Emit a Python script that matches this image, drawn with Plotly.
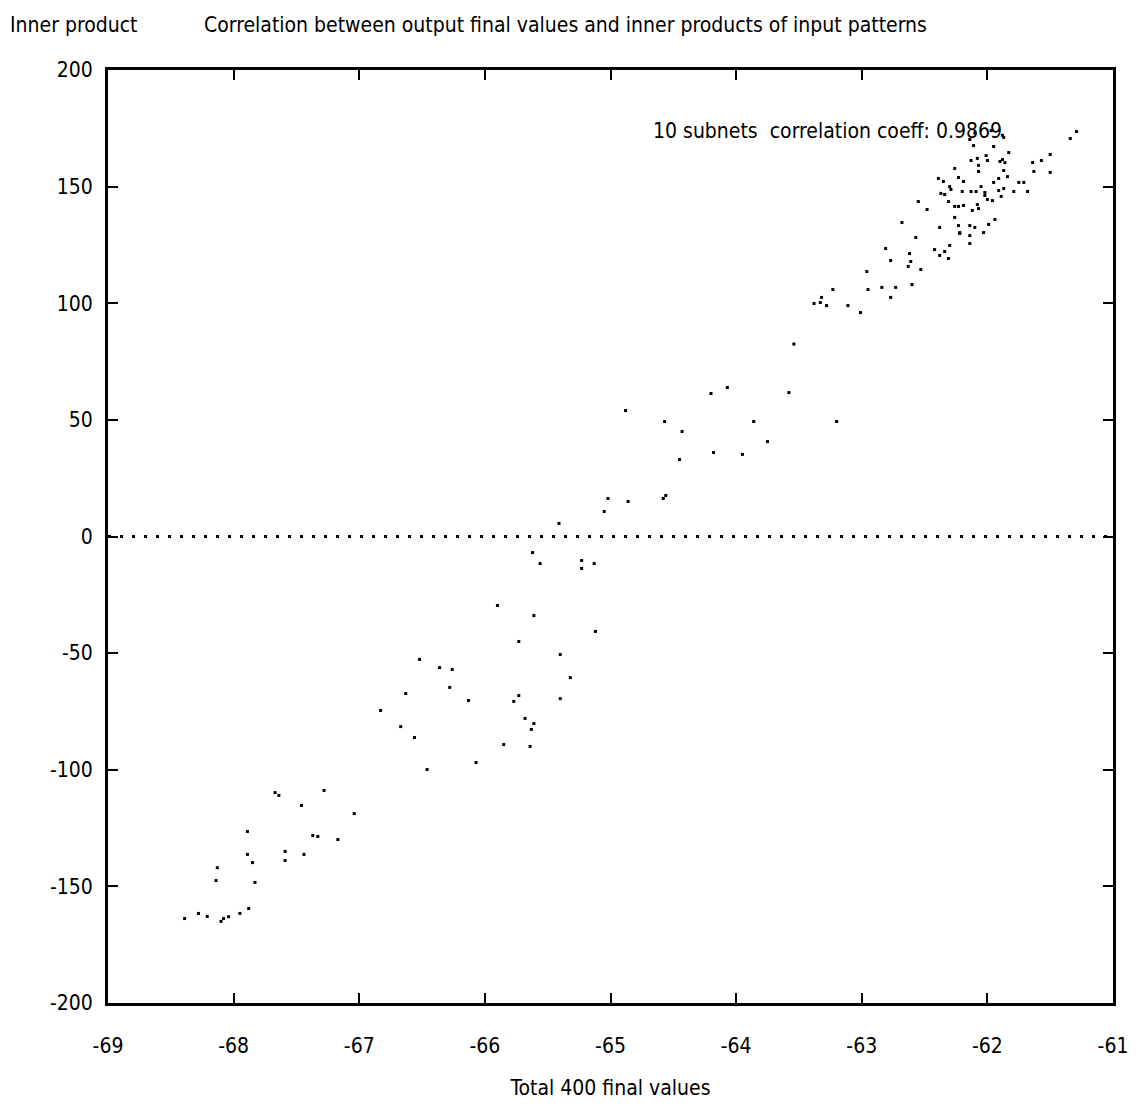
import plotly.graph_objects as go

# final values (x) and inner products (y)
final_values = [
    -68.39, -68.28, -68.21, -68.10, -68.08, -68.04, -67.95, -67.88, -68.14, -68.13,
    -67.89, -67.89, -67.85, -67.83, -67.67, -67.64, -67.59, -67.59, -67.46, -67.28,
    -67.04, -67.37, -67.33, -67.17, -67.44,
    -65.56, -65.23, -65.23, -65.13, -65.90, -65.61, -65.12, -65.73, -65.40, -65.32,
    -66.52, -66.36, -66.26, -66.28, -66.13, -66.63, -66.83, -65.73, -65.77, -65.40,
    -65.68, -65.61, -65.63, -66.67, -66.56, -65.85, -65.64, -66.07, -66.46,
    -65.02, -64.86, -65.05, -65.41, -65.62,
    -64.88, -64.57, -64.43, -64.45, -64.20, -64.07, -63.58, -63.86, -63.75, -64.18,
    -63.95, -64.56, -64.58, -63.54, -63.20,
    -63.38, -63.33, -63.32, -63.28, -63.23, -63.11, -63.01, -62.96, -62.95, -62.84,
    -62.77, -62.73, -62.77, -62.81, -62.60, -62.63, -62.53, -62.62, -62.61, -62.57,
    -62.42, -62.38, -62.34, -62.31, -62.30, -62.22,
    -62.68, -62.55, -62.48, -62.38, -62.39, -62.35, -62.37, -62.34, -62.31, -62.30,
    -62.29, -62.26, -62.26, -62.26, -62.23, -62.23, -62.23, -62.22, -62.19, -62.20,
    -62.19, -62.13, -62.14, -62.14, -62.13, -62.14, -62.12, -62.11, -62.14, -62.10,
    -62.08, -62.07, -62.07, -62.05, -62.09, -62.08, -62.07, -62.03, -62.02, -62.02,
    -62.01, -62.00, -62.00, -61.99, -61.96, -61.95, -61.94, -61.95, -61.91, -61.91,
    -61.90, -61.89, -61.87, -61.88, -61.86, -61.87, -61.84, -61.83, -61.87, -61.79,
    -61.75, -61.71, -61.68, -61.64, -61.63, -61.57, -61.50, -61.50, -61.34, -61.29,
    -62.10, -61.88, -61.97,
]
inner_products = [
    -163.8, -161.6, -162.9, -165.0, -163.8, -163.0, -161.6, -159.5, -147.5, -142.0,
    -126.5, -136.3, -139.8, -148.3, -109.8, -111.0, -135.0, -138.9, -115.3, -108.9,
    -118.8, -128.2, -128.6, -129.9, -136.3,
    -11.6, -10.3, -13.7, -11.6, -29.6, -33.9, -40.7, -45.0, -50.6, -60.5,
    -52.7, -56.2, -57.0, -64.7, -70.3, -67.3, -74.6, -68.2, -70.7, -69.5,
    -78.0, -80.2, -82.7, -81.5, -86.2, -89.2, -90.0, -96.9, -99.9,
    16.3, 15.0, 10.7, 5.6, -6.9,
    54.0, 49.3, 45.0, 33.0, 61.3, 63.9, 61.7, 49.3, 40.7, 36.0,
    35.2, 17.6, 16.3, 82.5, 49.3,
    99.9, 100.3, 102.5, 99.0, 105.9, 99.0, 96.0, 113.6, 105.9, 106.8,
    102.5, 106.8, 118.3, 123.5, 108.0, 115.8, 114.5, 121.3, 117.9, 128.2,
    123.0, 120.5, 122.2, 119.2, 124.8, 129.9,
    134.6, 143.6, 140.2, 132.5, 153.5, 152.2, 147.1, 146.6, 143.6, 150.0,
    148.8, 157.8, 141.5, 136.8, 153.9, 141.5, 133.3, 130.3, 152.2, 147.9,
    141.9, 161.2, 133.3, 129.0, 147.9, 125.6, 139.8, 167.6, 170.2, 132.5,
    162.1, 159.1, 156.5, 150.0, 147.9, 142.3, 140.6, 130.3, 147.5, 146.2,
    163.3, 161.2, 144.5, 133.8, 144.0, 167.2, 135.9, 151.8, 153.5, 148.3,
    160.8, 145.8, 149.2, 161.6, 160.3, 156.9, 154.3, 164.6, 171.1, 147.9,
    151.8, 151.8, 147.9, 160.3, 156.5, 161.2, 163.8, 156.1, 170.6, 173.6,
    173.0, 172.0, 174.0,
]

x_ticks = [-69, -68, -67, -66, -65, -64, -63, -62, -61]
y_ticks = [-200, -150, -100, -50, 0, 50, 100, 150, 200]

FONT = "DejaVu Sans Condensed, Liberation Sans Narrow, Roboto, sans-serif"

fig = go.Figure()
fig.add_trace(go.Scatter(
    x=final_values, y=inner_products, mode="markers",
    marker=dict(symbol="square", size=3, color="black", line=dict(width=0)),
    showlegend=False, hoverinfo="skip",
))

fig.add_shape(type="line", xref="x", yref="y", x0=-69, x1=-61, y0=0, y1=0,
              line=dict(color="black", width=3, dash="3px,9px"))

fig.update_xaxes(range=[-69, -61], tickvals=x_ticks, ticktext=[str(v) for v in x_ticks],
                 ticks="inside", ticklen=10, tickwidth=2, tickcolor="black",
                 showline=True, linewidth=3, linecolor="black", mirror="ticks",
                 showgrid=False, zeroline=False, ticklabelstandoff=22,
                 tickfont=dict(family=FONT, size=21, color="black"),
                 title=dict(text="Total 400 final values", standoff=24,
                            font=dict(family=FONT, size=21, color="black")))
fig.update_yaxes(range=[-200, 200], tickvals=y_ticks, ticktext=[str(v) for v in y_ticks],
                 ticks="inside", ticklen=10, tickwidth=2, tickcolor="black",
                 showline=True, linewidth=3, linecolor="black", mirror="ticks",
                 showgrid=False, zeroline=False, ticklabelstandoff=8,
                 tickfont=dict(family=FONT, size=21, color="black"))

fig.add_annotation(xref="paper", yref="paper", x=-0.1, y=1.048, xanchor="left", yanchor="middle",
                   text="Inner product", showarrow=False,
                   font=dict(family=FONT, size=21, color="black"))
fig.add_annotation(xref="paper", yref="paper", x=0.094, y=1.048, xanchor="left", yanchor="middle",
                   text="Correlation between output final values and inner products of input patterns",
                   showarrow=False, font=dict(family=FONT, size=21, color="black"))
fig.add_annotation(xref="x", yref="y", x=-64.68, y=174, xanchor="left", yanchor="middle",
                   text="10 subnets  correlation coeff: 0.9869", showarrow=False,
                   font=dict(family=FONT, size=21, color="black"))

fig.update_layout(width=1139, height=1112, paper_bgcolor="white", plot_bgcolor="white",
                  margin=dict(l=108, r=26, t=70, b=109))

fig.write_html("out.html")
